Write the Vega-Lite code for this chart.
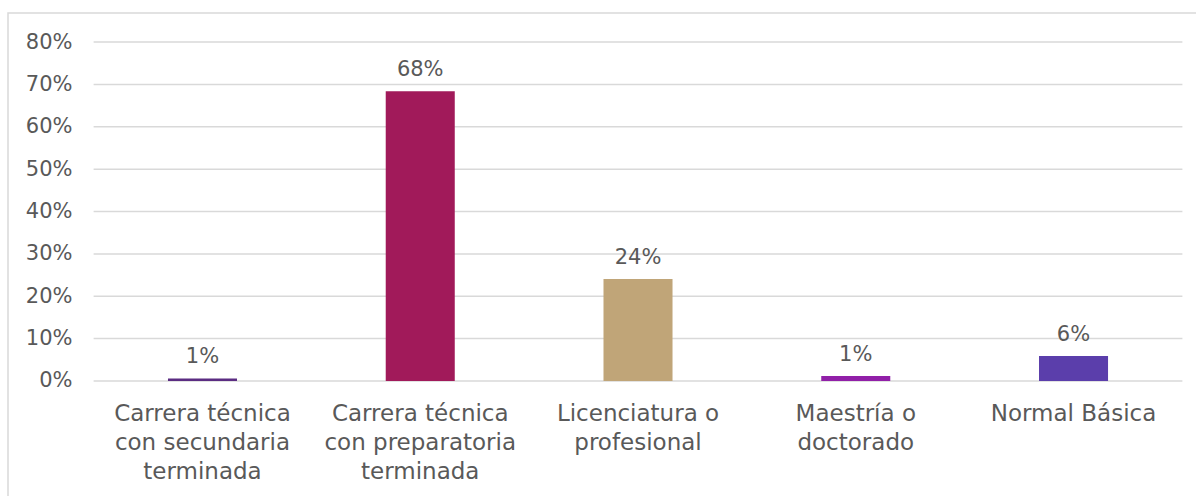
{
  "$schema": "https://vega.github.io/schema/vega-lite/v6.json",
  "autosize": "none",
  "width": 1192,
  "height": 490,
  "padding": {"left": 8, "top": 13, "right": 0, "bottom": 0},
  "background": "white",
  "config": {
    "view": {"stroke": "#d9d9d9", "strokeWidth": 1.5},
    "font": "DejaVu Sans"
  },
  "datasets": {
    "niveles": [
      {"nivel": "Carrera técnica con secundaria terminada", "valor": 0.006, "color": "#5B2C82"},
      {"nivel": "Carrera técnica con preparatoria terminada", "valor": 0.684, "color": "#A11A5A"},
      {"nivel": "Licenciatura o profesional", "valor": 0.241, "color": "#C0A578"},
      {"nivel": "Maestría o doctorado", "valor": 0.012, "color": "#9120A8"},
      {"nivel": "Normal Básica", "valor": 0.059, "color": "#5B3EAB"}
    ],
    "grid": [
      {"g": 0}, {"g": 0.1}, {"g": 0.2}, {"g": 0.3}, {"g": 0.4},
      {"g": 0.5}, {"g": 0.6}, {"g": 0.7}, {"g": 0.8}
    ]
  },
  "layer": [
    {
      "data": {"name": "grid"},
      "mark": {"type": "rule", "color": "#d9d9d9", "strokeWidth": 1.5},
      "encoding": {
        "y": {"field": "g", "type": "quantitative"},
        "x": {"datum": "Carrera técnica con secundaria terminada", "type": "nominal", "bandPosition": 0},
        "x2": {"datum": "Normal Básica", "bandPosition": 1}
      }
    },
    {
      "data": {"name": "niveles"},
      "mark": {"type": "bar", "width": {"band": 0.317}},
      "encoding": {
        "x": {
          "field": "nivel",
          "type": "nominal",
          "scale": {
            "domain": ["Carrera técnica con secundaria terminada", "Carrera técnica con preparatoria terminada", "Licenciatura o profesional", "Maestría o doctorado", "Normal Básica"],
            "paddingInner": 0,
            "paddingOuter": 0.23696,
            "align": 0.8295
          },
          "axis": {
            "title": null,
            "domain": false,
            "ticks": false,
            "offset": -122,
            "bandPosition": 0.5,
            "labelAngle": 0,
            "labelAlign": "center",
            "labelFontSize": 23,
            "labelColor": "#595959",
            "labelPadding": 39,
            "labelLineHeight": 29,
            "labelLimit": 0,
            "labelBaseline": "alphabetic",
            "labelExpr": "datum.value == 'Carrera técnica con secundaria terminada' ? ['Carrera técnica', 'con secundaria', 'terminada'] : datum.value == 'Carrera técnica con preparatoria terminada' ? ['Carrera técnica', 'con preparatoria', 'terminada'] : datum.value == 'Licenciatura o profesional' ? ['Licenciatura o', 'profesional'] : datum.value == 'Maestría o doctorado' ? ['Maestría o', 'doctorado'] : datum.value"
          }
        },
        "y": {
          "field": "valor",
          "type": "quantitative",
          "scale": {"domain": [-0.287906, 0.868437], "nice": false, "zero": false},
          "axis": {
            "title": null,
            "domain": false,
            "ticks": false,
            "grid": false,
            "offset": -86,
            "values": [0, 0.1, 0.2, 0.3, 0.4, 0.5, 0.6, 0.7, 0.8],
            "format": ".0%",
            "labelFontSize": 21,
            "labelColor": "#595959",
            "labelPadding": 22
          }
        },
        "y2": {"datum": 0},
        "color": {"field": "color", "type": "nominal", "scale": null}
      }
    },
    {
      "data": {"name": "niveles"},
      "mark": {"type": "text", "dy": -15, "baseline": "alphabetic", "fontSize": 21, "color": "#595959"},
      "encoding": {
        "x": {"field": "nivel", "type": "nominal"},
        "y": {"field": "valor", "type": "quantitative"},
        "text": {"field": "valor", "type": "quantitative", "format": ".0%"}
      }
    }
  ]
}
